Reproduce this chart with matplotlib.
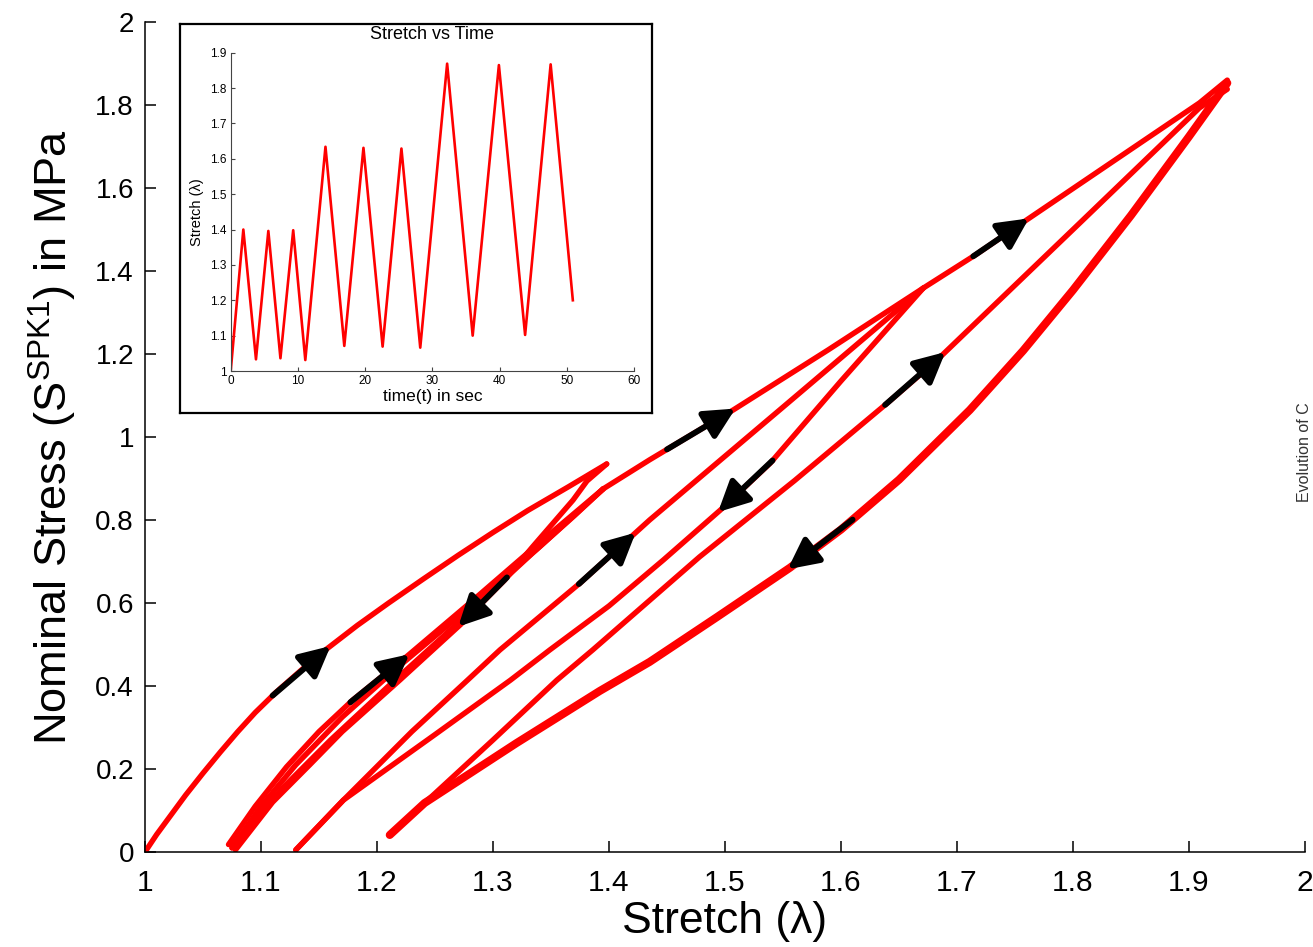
import numpy as np
import matplotlib
matplotlib.use("Agg")
import matplotlib.pyplot as plt
from matplotlib.ticker import FuncFormatter

plt.rcParams['font.family'] = ['Liberation Sans', 'DejaVu Sans']
plt.rcParams['mathtext.fontset'] = 'custom'
plt.rcParams['mathtext.rm'] = 'Liberation Sans'
plt.rcParams['mathtext.it'] = 'Liberation Sans:italic'

# ---- inset: stretch history ----
inset_time = [0, 1.88, 3.76, 5.6, 7.4, 9.3, 11.1, 14.1, 16.9, 19.75, 22.6, 25.4,
              28.2, 32.2, 36.0, 39.9, 43.8, 47.6, 50.9]
inset_stretch = [1.0, 1.40, 1.033, 1.396, 1.036, 1.398, 1.031, 1.634, 1.071, 1.631,
                 1.069, 1.629, 1.066, 1.869, 1.10, 1.865, 1.102, 1.867, 1.20]

# ---- main plot branches (stretch, nominal stress) ----
virgin_x = [1.000, 1.010, 1.020, 1.035, 1.050, 1.065, 1.080, 1.095, 1.113, 1.135,
            1.157, 1.183, 1.210, 1.240, 1.270, 1.300, 1.330, 1.365, 1.398]
virgin_y = [0.000, 0.042, 0.080, 0.137, 0.190, 0.241, 0.290, 0.336, 0.385, 0.439,
            0.490, 0.546, 0.600, 0.658, 0.715, 0.770, 0.823, 0.880, 0.935]

unload1a_x = [1.398, 1.381, 1.369, 1.334, 1.310, 1.272, 1.220, 1.170, 1.142, 1.110, 1.078]
unload1a_y = [0.935, 0.894, 0.848, 0.735, 0.655, 0.548, 0.415, 0.290, 0.210, 0.120, 0.005]

reload1a_x = [1.072, 1.095, 1.122, 1.150, 1.179, 1.226, 1.280, 1.340, 1.395]
reload1a_y = [0.018, 0.110, 0.205, 0.290, 0.366, 0.472, 0.600, 0.745, 0.875]

unload1b_x = [1.395, 1.370, 1.334, 1.300, 1.260, 1.210, 1.160, 1.120, 1.090, 1.075]
unload1b_y = [0.875, 0.810, 0.720, 0.632, 0.527, 0.400, 0.270, 0.158, 0.065, 0.010]

reload1b_x = [1.075, 1.100, 1.130, 1.170, 1.220, 1.280, 1.340, 1.395]
reload1b_y = [0.010, 0.110, 0.210, 0.325, 0.450, 0.590, 0.735, 0.875]

# loading beyond 1.4 up to 1.93 (upper envelope)
load_top_x = [1.395, 1.435, 1.478, 1.507, 1.589, 1.671, 1.716, 1.760, 1.835, 1.909, 1.933]
load_top_y = [0.875, 0.945, 1.017, 1.065, 1.210, 1.359, 1.439, 1.523, 1.665, 1.805, 1.860]

unload2_x = [1.671, 1.600, 1.539, 1.496, 1.447, 1.400, 1.349, 1.315, 1.250, 1.171, 1.130]
unload2_y = [1.359, 1.135, 0.937, 0.824, 0.704, 0.593, 0.487, 0.414, 0.283, 0.125, 0.005]

reload2_x = [1.130, 1.171, 1.230, 1.278, 1.306, 1.375, 1.435, 1.550, 1.671]
reload2_y = [0.005, 0.125, 0.290, 0.414, 0.487, 0.648, 0.800, 1.072, 1.359]

unload3_x = [1.933, 1.900, 1.850, 1.800, 1.757, 1.711, 1.650, 1.600, 1.556, 1.493,
             1.435, 1.392, 1.320, 1.241, 1.211]
unload3_y = [1.853, 1.724, 1.534, 1.354, 1.208, 1.065, 0.897, 0.777, 0.685, 0.566,
             0.458, 0.388, 0.262, 0.118, 0.041]

reload3_x = [1.211, 1.241, 1.300, 1.355, 1.386, 1.478, 1.560, 1.640, 1.683, 1.806,
             1.909, 1.933]
reload3_y = [0.041, 0.118, 0.270, 0.414, 0.487, 0.711, 0.895, 1.082, 1.186, 1.516,
             1.793, 1.838]

branches = {
    'virgin': (virgin_x, virgin_y),
    'unload1a': (unload1a_x, unload1a_y),
    'reload1a': (reload1a_x, reload1a_y),
    'unload1b': (unload1b_x, unload1b_y),
    'reload1b': (reload1b_x, reload1b_y),
    'load_top': (load_top_x, load_top_y),
    'unload2': (unload2_x, unload2_y),
    'reload2': (reload2_x, reload2_y),
    'unload3': (unload3_x, unload3_y),
    'reload3': (reload3_x, reload3_y),
}

# direction arrows: (branch, start stretch, end stretch)
arrows = [
    ('virgin', 1.110, 1.160),
    ('reload1a', 1.177, 1.228),
    ('unload1a', 1.312, 1.270),
    ('reload2', 1.374, 1.423),
    ('load_top', 1.450, 1.509),
    ('unload2', 1.541, 1.494),
    ('reload3', 1.638, 1.690),
    ('unload3', 1.610, 1.554),
    ('load_top', 1.714, 1.762),
]

x_ticks = [1, 1.1, 1.2, 1.3, 1.4, 1.5, 1.6, 1.7, 1.8, 1.9, 2]
y_ticks = [0, 0.2, 0.4, 0.6, 0.8, 1, 1.2, 1.4, 1.6, 1.8, 2]
inset_x_ticks = [0, 10, 20, 30, 40, 50, 60]
inset_y_ticks = [1, 1.1, 1.2, 1.3, 1.4, 1.5, 1.6, 1.7, 1.8, 1.9]

W, H = 1313, 947
fig = plt.figure(figsize=(W / 100, H / 100), dpi=100)
fmt = FuncFormatter(lambda v, p: '%g' % round(v, 3))

# main axes
ax = fig.add_axes([145 / W, 1 - 852 / H, 1160 / W, 830 / H])
lw = 3.9
for name, (bx, by) in branches.items():
    ax.plot(bx, by, color='#ff0000', lw=5.8 if name == 'unload3' else lw,
            solid_capstyle='round', solid_joinstyle='round', zorder=2)

for name, xs, xe in arrows:
    bx, by = branches[name]
    order = np.argsort(bx)
    xp = np.asarray(bx)[order]
    fp = np.asarray(by)[order]
    ys = np.interp(xs, xp, fp)
    ye = np.interp(xe, xp, fp)
    ax.annotate('', xy=(xe, ye), xytext=(xs, ys),
                arrowprops=dict(arrowstyle='-|>', color='black', lw=4.2,
                                mutation_scale=46, shrinkA=0, shrinkB=0),
                zorder=3)

ax.set_xlim(1, 2)
ax.set_ylim(0, 2)
ax.set_xticks(x_ticks)
ax.set_yticks(y_ticks)
ax.xaxis.set_major_formatter(fmt)
ax.yaxis.set_major_formatter(fmt)
ax.spines['top'].set_visible(False)
ax.spines['right'].set_visible(False)
for s in ('left', 'bottom'):
    ax.spines[s].set_linewidth(1.1)
ax.tick_params(axis='both', direction='in', length=8, width=1.1)
ax.tick_params(axis='x', labelsize=21.5, pad=12)
ax.tick_params(axis='y', labelsize=20, pad=8)
ax.set_xlabel('Stretch (λ)', fontsize=32, labelpad=3)
ax.set_ylabel(r'Nominal Stress (S$^{\rm SPK1}$) in MPa', fontsize=32.5, labelpad=12)

# framed inset
frame = fig.add_axes([180 / W, 1 - 413 / H, 472 / W, 389 / H], zorder=3)
frame.set_xticks([])
frame.set_yticks([])
frame.set_facecolor('white')
for s in frame.spines.values():
    s.set_linewidth(1.6)

ins = fig.add_axes([230.7 / W, 1 - 371 / H, 403.3 / W, 318.3 / H], zorder=4)
ins.plot(inset_time, inset_stretch, color='#ff0000', lw=1.9)
ins.set_xlim(0, 60)
ins.set_ylim(1, 1.9)
ins.set_xticks(inset_x_ticks)
ins.set_yticks(inset_y_ticks)
ins.yaxis.set_major_formatter(fmt)
ins.spines['top'].set_visible(False)
ins.spines['right'].set_visible(False)
for s in ('left', 'bottom'):
    ins.spines[s].set_linewidth(0.8)
    ins.spines[s].set_color('#444444')
ins.tick_params(axis='both', direction='in', length=3, width=0.8,
                labelsize=8.5, color='#444444', pad=3)
ins.set_title('Stretch vs Time', fontsize=13, pad=10)
ins.set_xlabel('time(t) in sec', fontsize=12.5, labelpad=1)
ins.set_ylabel('Stretch (λ)', fontsize=10.5, labelpad=4)

# text from the neighbouring panel at the right edge
fig.text(1297 / W, 1 - 452 / H, 'Evolution of C', rotation=90, ha='left',
         va='center', fontsize=11.5, color='#333333')

fig.savefig('out.png', dpi=100)
